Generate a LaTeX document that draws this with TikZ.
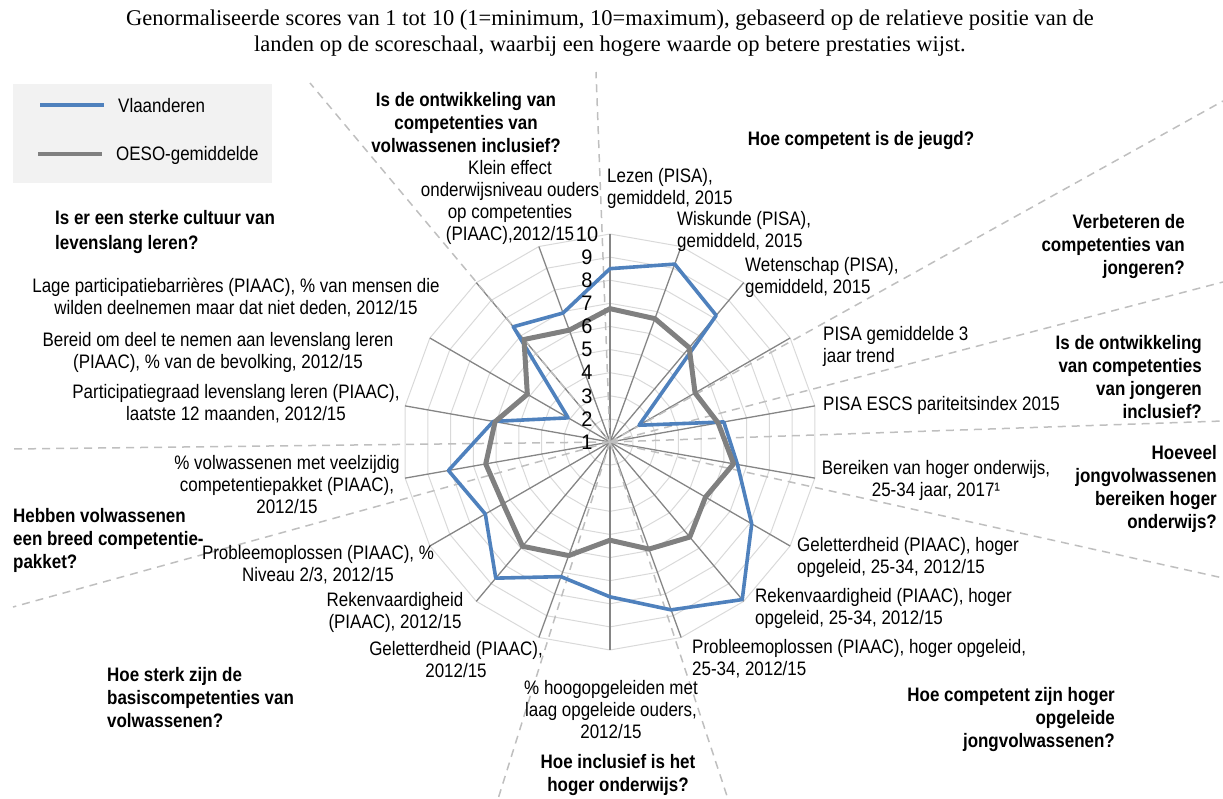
\documentclass[tikz,border=0pt]{standalone}
\usepackage{fontspec}
\setmainfont{Liberation Sans}[FakeStretch=0.87]
\newfontfamily\numfont{Liberation Sans}[FakeStretch=0.95]
\newfontfamily\seriffont{Liberation Serif}
\definecolor{vlblue}{HTML}{4F81BD}
\definecolor{oesogray}{HTML}{808080}
\definecolor{ringgray}{HTML}{D9D9D9}
\definecolor{spokegray}{HTML}{858585}
\definecolor{sepgray}{HTML}{BFBFBF}
\definecolor{legbg}{HTML}{F2F2F2}
\begin{document}
\begin{tikzpicture}[x=1pt,y=-1pt,
  gridring/.style={draw=ringgray,line width=1pt},
  spoke/.style={draw=spokegray,line width=1.3pt},
  vaxis/.style={draw=spokegray,line width=1.9pt},
  sepline/.style={draw=sepgray,line width=1.5pt,dash pattern=on 8pt off 6pt},
  blueline/.style={draw=vlblue,line width=3.6pt,line join=round},
  grayline/.style={draw=oesogray,line width=5pt,line join=round},
  lbl/.style={font=\fontsize{19.5}{22}\selectfont,inner sep=0pt},
  numlbl/.style={font=\numfont\fontsize{21}{22}\selectfont,inner sep=0pt},
  head/.style={font=\bfseries\fontsize{19.5}{23}\selectfont,inner sep=0pt},
  titletext/.style={font=\seriffont\fontsize{22.5}{26}\selectfont,inner sep=0pt,align=center}
]
\useasboundingbox (0,0) rectangle (1223,799);
\def\cx{610}\def\cy{442}\def\uu{23.111}
% grid rings
\foreach \v in {2,...,10}{
  \draw[gridring] ({\cx},{\cy-(\v-1)*\uu}) \foreach \k in {1,...,17}{ -- ({\cx+(\v-1)*\uu*sin(\k*20)},{\cy-(\v-1)*\uu*cos(\k*20)}) } -- cycle;
}
\coordinate (c) at (\cx,\cy);
% spokes
\foreach \k in {1,...,17}{
  \coordinate (s\k) at ({\cx+208*sin(\k*20)},{\cy-208*cos(\k*20)});
  \draw[spoke] (c) -- (s\k);
}
\coordinate (s0) at (\cx,{\cy-208});
\draw[vaxis] (c) -- (s0);
% dashed separators
\foreach \px/\py [count=\i] in {596/72,310/83,1223/101,1223/282,1223/421,1223/578,728/799,498/799,13/607,13/449}{
  \coordinate (d\i) at (\px,\py);
  \draw[sepline] (c) -- (d\i);
}
% data
\foreach \v [count=\k from 0] in {8.5,9.19,8.15,2.45,6.0,6.6,8.08,9.9,8.73,7.7,7.2,8.69,7.23,8.1,6.13,3.09,7.51,6.94}{
  \coordinate (b\k) at ({\cx+(\v-1)*\uu*sin(\k*20)},{\cy-(\v-1)*\uu*cos(\k*20)});
}
\foreach \v [count=\k from 0] in {6.77,6.68,6.33,5.25,5.75,6.43,5.77,6.37,5.93,5.25,6.23,6.89,6.34,6.46,6.05,5.13,6.79,6.15}{
  \coordinate (g\k) at ({\cx+(\v-1)*\uu*sin(\k*20)},{\cy-(\v-1)*\uu*cos(\k*20)});
}
\draw[blueline] (b0) \foreach \k in {1,...,17}{ -- (b\k)} -- cycle;
\draw[grayline] (g0) \foreach \k in {1,...,17}{ -- (g\k)} -- cycle;
% value labels
\foreach \v in {1,...,10}{
  \node[numlbl] (n\v) at (587,{\cy-(\v-1)*\uu}) {\v};
}
% title
\node[titletext] (title) at (610,33) {Genormaliseerde scores van 1 tot 10 (1=minimum, 10=maximum), gebaseerd op de relatieve positie van de\\landen op de scoreschaal, waarbij een hogere waarde op betere prestaties wijst.};
% legend
\fill[legbg] (13,84) rectangle (272,183);
\coordinate (lb1) at (40,105); \coordinate (lb2) at (104,105);
\coordinate (lg1) at (38,154); \coordinate (lg2) at (102,154);
\draw[draw=vlblue,line width=4pt] (lb1) -- (lb2);
\draw[draw=oesogray,line width=4.5pt] (lg1) -- (lg2);
\node[lbl,anchor=west] (legv) at (118,106) {Vlaanderen};
\node[lbl,anchor=west] (lego) at (116,155) {OESO-gemiddelde};
% axis labels
\node[lbl,anchor=west,align=left] (a1) at (607,188) {Lezen (PISA),\\gemiddeld, 2015};
\node[lbl,anchor=west,align=left] (a2) at (677,231) {Wiskunde (PISA),\\gemiddeld, 2015};
\node[lbl,anchor=west,align=left] (a3) at (745,277) {Wetenschap (PISA),\\gemiddeld, 2015};
\node[lbl,anchor=west,align=left] (a4) at (823,346) {PISA gemiddelde 3\\jaar trend};
\node[lbl,anchor=west,align=left] (a5) at (823,405) {PISA ESCS pariteitsindex 2015};
\node[lbl,align=center] (a6) at (936,480) {Bereiken van hoger onderwijs,\\25-34 jaar, 2017¹};
\node[lbl,anchor=west,align=left] (a7) at (797,557) {Geletterdheid (PIAAC), hoger\\opgeleid, 25-34, 2012/15};
\node[lbl,anchor=west,align=left] (a8) at (755,608) {Rekenvaardigheid (PIAAC), hoger\\opgeleid, 25-34, 2012/15};
\node[lbl,anchor=west,align=left] (a9) at (692,659) {Probleemoplossen (PIAAC), hoger opgeleid,\\25-34, 2012/15};
\node[lbl,align=center] (a10) at (611,710) {\% hoogopgeleiden met\\laag opgeleide ouders,\\2012/15};
\node[lbl,align=center] (a11) at (456,660) {Geletterdheid (PIAAC),\\2012/15};
\node[lbl,align=center] (a12) at (395,612) {Rekenvaardigheid\\(PIAAC), 2012/15};
\node[lbl,align=center] (a13) at (318,565) {Probleemoplossen (PIAAC), \%\\Niveau 2/3, 2012/15};
\node[lbl,align=center] (a14) at (287,485) {\% volwassenen met veelzijdig\\competentiepakket (PIAAC),\\2012/15};
\node[lbl,align=center] (a15) at (236,404) {Participatiegraad levenslang leren (PIAAC),\\laatste 12 maanden, 2012/15};
\node[lbl,align=center] (a16) at (218,352) {Bereid om deel te nemen aan levenslang leren\\(PIAAC), \% van de bevolking, 2012/15};
\node[lbl,align=center] (a17) at (236,298) {Lage participatiebarrières (PIAAC), \% van mensen die\\wilden deelnemen maar dat niet deden, 2012/15};
\node[lbl,align=center] (a18) at (510,202) {Klein effect\\onderwijsniveau ouders\\op competenties\\(PIAAC),2012/15};
% headings
\node[head,align=center] (h1) at (466,123) {Is de ontwikkeling van\\competenties van\\volwassenen inclusief?};
\node[head,align=center] (h2) at (861,141) {Hoe competent is de jeugd?};
\node[head,anchor=east,align=right] (h3) at (1185,247) {Verbeteren de\\competenties van\\jongeren?};
\node[head,anchor=east,align=right] (h4) at (1202,377) {Is de ontwikkeling\\van competenties\\van jongeren\\inclusief?};
\node[head,anchor=east,align=right] (h5) at (1217,489) {Hoeveel\\jongvolwassenen\\bereiken hoger\\onderwijs?};
\node[head,anchor=east,align=right] (h6) at (1115,719) {Hoe competent zijn hoger\\opgeleide\\jongvolwassenen?};
\node[head,align=center] (h7) at (618,775) {Hoe inclusief is het\\hoger onderwijs?};
\node[head,anchor=west,align=left] (h8) at (107,698) {Hoe sterk zijn de\\basiscompetenties van\\volwassenen?};
\node[head,anchor=west,align=left] (h9) at (13,540) {Hebben volwassenen\\een breed competentie-\\pakket?};
\node[head,anchor=west,align=left,font=\bfseries\fontsize{19.5}{25}\selectfont] (h10) at (55,232) {Is er een sterke cultuur van\\levenslang leren?};
\end{tikzpicture}
\end{document}
